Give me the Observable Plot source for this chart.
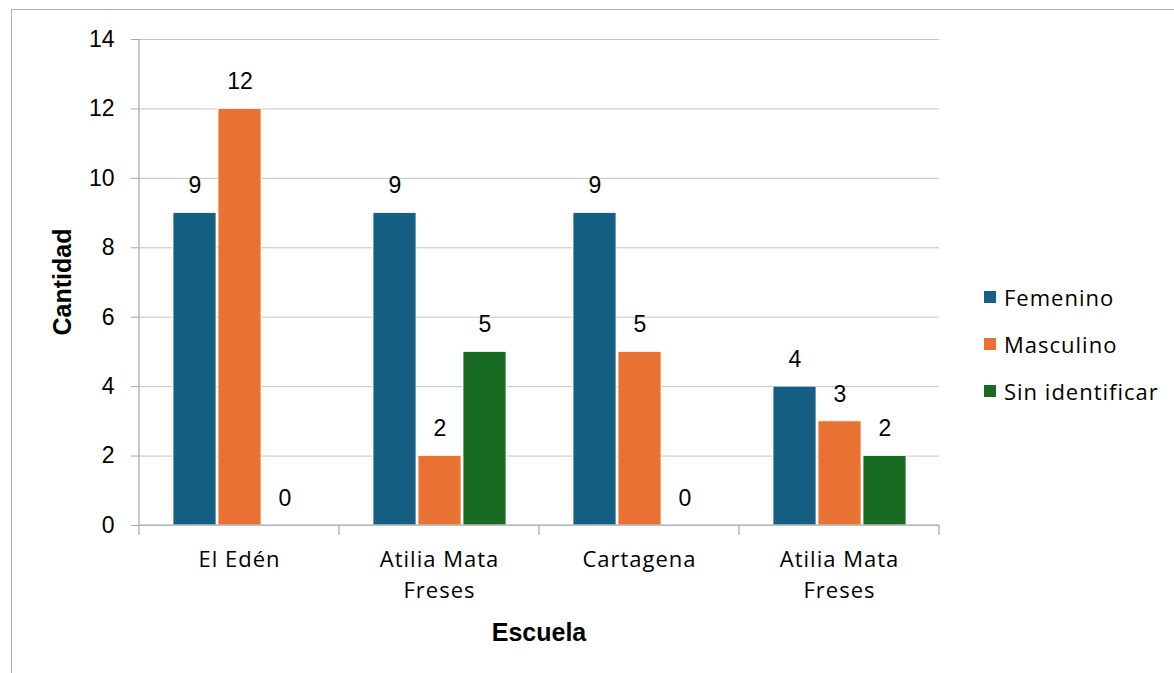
<!DOCTYPE html>
<html>
<head>
<meta charset="utf-8">
<script src="https://cdn.jsdelivr.net/npm/d3@7"></script>
<script src="https://cdn.jsdelivr.net/npm/@observablehq/plot@0.6"></script>
<style>
  html, body { margin: 0; padding: 0; background: #fff; }
  #wrap { position: relative; width: 1174px; height: 673px; overflow: hidden; }
  #border { position: absolute; left: 11px; top: 9px; width: 1200px; height: 700px; border: 1px solid #b4b4b4; box-sizing: border-box; }
  #chart { position: absolute; left: 0; top: 0; }
</style>
</head>
<body>
<div id="wrap"><div id="border"></div><div id="chart"></div></div>
<script>
const schools = ["El Edén", "Atilia Mata Freses", "Cartagena", "Atilia Mata Freses"];
const schoolLabels = ["El Edén", "Atilia Mata\nFreses", "Cartagena", "Atilia Mata\nFreses"];
const series = ["Femenino", "Masculino", "Sin identificar"];
const femenino = [9, 9, 9, 4];
const masculino = [12, 2, 5, 3];
const sinIdentificar = [0, 5, 0, 2];
const yTicks = [0, 2, 4, 6, 8, 10, 12, 14];
const colors = ["#156082", "#E97132", "#196B24"];
const yTitle = "Cantidad";
const xTitle = "Escuela";

const keys = schools.map((s, i) => String(i));
const values = [femenino, masculino, sinIdentificar];
const data = schools.flatMap((s, i) => series.map((ser, j) => ({school: String(i), name: s, series: ser, value: values[j][i]})));

const numFont = "Liberation Sans, Arial, sans-serif";
const catFont = "Open Sans, sans-serif";

const plot = Plot.plot({
  width: 1174, height: 673,
  marginLeft: 137, marginRight: 234, marginTop: 39, marginBottom: 148,
  style: {fontFamily: numFont, fontSize: "22px", color: "#000", background: "transparent", overflow: "visible"},
  fx: {domain: keys, paddingInner: 0, paddingOuter: 0, label: null, axis: null},
  x: {domain: series, paddingInner: 0.05, paddingOuter: 0.7, axis: null},
  y: {domain: [0, 14], axis: null},
  color: {domain: series, range: colors},
  marks: [
    Plot.gridY(yTicks, {stroke: "#c4c4c4", strokeOpacity: 1}),
    Plot.barY(data, {fx: "school", x: "series", y: "value", fill: "series", stroke: "#fff", strokeWidth: 0.8}),
    Plot.text(data, {fx: "school", x: "series", y: "value", text: d => String(d.value), dy: -27, fontSize: 23, fill: "#000"}),
    Plot.axisY(yTicks, {tickSize: 8, tickPadding: 17, stroke: "#a6a6a6", fill: "#000", fontSize: 23, label: null}),
    Plot.axisFx({anchor: "bottom", tickSize: 0, tickPadding: 20, tickFormat: k => schoolLabels[+k], lineHeight: 1.4, fontFamily: catFont, fontSize: 22, fill: "#000", label: null})
  ]
});

document.getElementById("chart").appendChild(plot);

const svg = d3.select(plot);
const fx = plot.scale("fx");
const y = plot.scale("y");
const color = plot.scale("color");
const x0 = fx.apply(keys[0]);
const bw = fx.bandwidth;
const bounds = keys.map(k => fx.apply(k)).concat([fx.apply(keys[keys.length - 1]) + bw]);
const xEnd = bounds[bounds.length - 1];
const y0 = y.apply(0), yTop = y.apply(14);

const g = svg.append("g").attr("stroke", "#a6a6a6").attr("stroke-width", 1.2);
g.append("line").attr("x1", x0).attr("x2", x0).attr("y1", yTop).attr("y2", y0);
g.append("line").attr("x1", x0).attr("x2", xEnd).attr("y1", y0).attr("y2", y0);
bounds.forEach(b => g.append("line").attr("x1", b).attr("x2", b).attr("y1", y0).attr("y2", y0 + 10));

svg.append("text").text(yTitle)
  .attr("transform", `translate(62,${(y0 + yTop) / 2}) rotate(-90)`)
  .attr("text-anchor", "middle").attr("dominant-baseline", "central")
  .attr("font-family", numFont).attr("font-weight", "bold").attr("font-size", 25).attr("fill", "#000");
svg.append("text").text(xTitle)
  .attr("x", (x0 + xEnd) / 2).attr("y", 632)
  .attr("text-anchor", "middle").attr("dominant-baseline", "central")
  .attr("font-family", numFont).attr("font-weight", "bold").attr("font-size", 25).attr("fill", "#000");

const leg = svg.append("g");
series.forEach((s, i) => {
  const cy = 297 + i * 47;
  leg.append("rect").attr("x", 984).attr("y", cy - 6).attr("width", 12).attr("height", 12).attr("fill", color.apply(s));
  leg.append("text").text(s).attr("x", 1004).attr("y", cy)
    .attr("text-anchor", "start")
    .attr("dominant-baseline", "central").attr("font-family", catFont).attr("font-size", 22)
    .attr("letter-spacing", "1px").attr("fill", "#000");
});
svg.selectAll("[aria-label='fx-axis tick label'] text").attr("letter-spacing", "1px");
</script>
</body>
</html>
